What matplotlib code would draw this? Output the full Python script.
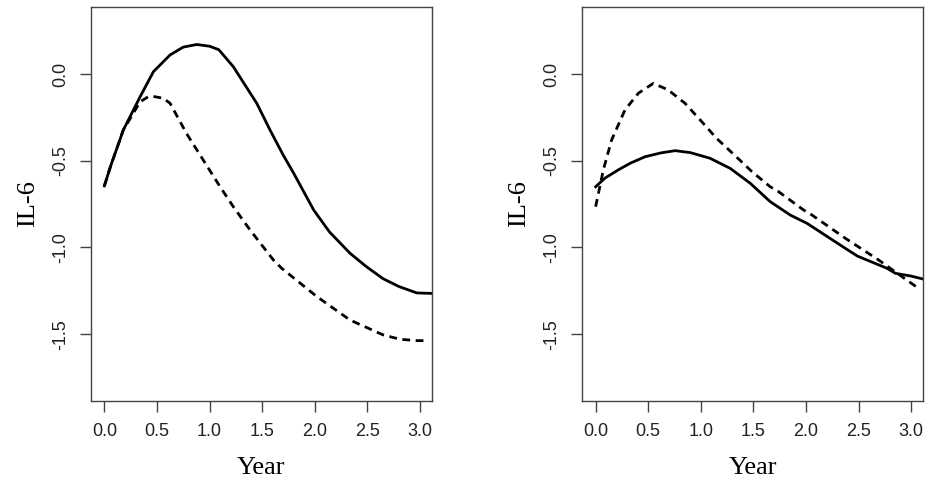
import matplotlib
matplotlib.use("Agg")
import matplotlib.pyplot as plt

plt.rcParams["axes.unicode_minus"] = False

# values (Year, IL-6)
left_solid_x = [0.00, 0.06, 0.18, 0.34, 0.466, 0.625, 0.75, 0.878, 1.00, 1.088,
                1.226, 1.449, 1.575, 1.70, 1.80, 1.99, 2.14, 2.335, 2.49, 2.65,
                2.80, 2.97, 3.12]
left_solid_y = [-0.645, -0.53, -0.323, -0.131, 0.013, 0.11, 0.155, 0.170, 0.160,
                0.14, 0.042, -0.169, -0.323, -0.467, -0.572, -0.784, -0.91,
                -1.033, -1.11, -1.18, -1.225, -1.262, -1.265]

left_dash_x = [0.00, 0.06, 0.18, 0.34, 0.42, 0.48, 0.56, 0.625, 0.78, 0.94, 1.10,
               1.226, 1.385, 1.607, 1.686, 2.02, 2.335, 2.65, 2.81, 2.97, 3.06]
left_dash_y = [-0.645, -0.53, -0.323, -0.16, -0.13, -0.131, -0.14, -0.169, -0.342,
               -0.496, -0.65, -0.765, -0.899, -1.072, -1.12, -1.283, -1.418,
               -1.504, -1.529, -1.537, -1.537]

right_solid_x = [0.00, 0.089, 0.215, 0.327, 0.47, 0.62, 0.755, 0.898, 1.009, 1.088,
                 1.279, 1.47, 1.66, 1.85, 2.01, 2.374, 2.49, 2.77, 2.85, 3.0, 3.12]
right_solid_y = [-0.65, -0.60, -0.553, -0.515, -0.477, -0.455, -0.442, -0.453,
                 -0.472, -0.486, -0.544, -0.63, -0.736, -0.813, -0.861, -1.005,
                 -1.05, -1.12, -1.149, -1.165, -1.183]

right_dash_x = [0.00, 0.073, 0.152, 0.279, 0.406, 0.549, 0.69, 0.85, 1.009, 1.15,
                1.37, 1.486, 1.66, 1.739, 1.977, 2.057, 2.374, 2.69, 2.898, 3.057]
right_dash_y = [-0.765, -0.553, -0.38, -0.207, -0.111, -0.054, -0.092, -0.169,
                -0.275, -0.371, -0.496, -0.563, -0.65, -0.678, -0.784, -0.813,
                -0.947, -1.072, -1.162, -1.23]

x_ticks = [0.0, 0.5, 1.0, 1.5, 2.0, 2.5, 3.0]
y_ticks = [0.0, -0.5, -1.0, -1.5]

SANS = "Liberation Sans"
SERIF = "Liberation Serif"
EDGE = "#444444"


def panel(ax, xs, ys, xd, yd):
    ax.plot(xs, ys, color="black", lw=2.0, solid_joinstyle="round")
    ax.plot(xd, yd, color="black", lw=2.0, ls=(0, (2.8, 2.0)),
            dash_capstyle="butt")
    ax.set_xlim(-0.127, 3.115)
    ax.set_ylim(-1.885, 0.386)

    ax.set_xticks(x_ticks, [f"{v:.1f}" for v in x_ticks],
                  fontsize=13, fontfamily=SANS, color="#222222")
    ax.set_yticks(y_ticks, [f"{v:.1f}" for v in y_ticks],
                  fontsize=13, fontfamily=SANS, color="#222222",
                  rotation=90, va="center")
    ax.tick_params(length=8, width=1.0, color=EDGE, pad=8)
    for s in ax.spines.values():
        s.set_color(EDGE)
        s.set_linewidth(1.0)

    ax.set_xlabel("Year", fontsize=19, fontfamily=SERIF, va="center")
    ax.set_ylabel("IL-6", fontsize=19, fontfamily=SERIF, va="center")
    ax.xaxis.set_label_coords(0.5, -0.170)
    ax.yaxis.set_label_coords(-0.185, 0.5)


fig = plt.figure(figsize=(9.25, 4.84), dpi=100)
ax1 = fig.add_axes([0.0984, 0.1715, 0.3686, 0.8140])
ax2 = fig.add_axes([0.6295, 0.1715, 0.3686, 0.8140])

panel(ax1, left_solid_x, left_solid_y, left_dash_x, left_dash_y)
panel(ax2, right_solid_x, right_solid_y, right_dash_x, right_dash_y)

fig.savefig("out.png", dpi=100, facecolor="white")
